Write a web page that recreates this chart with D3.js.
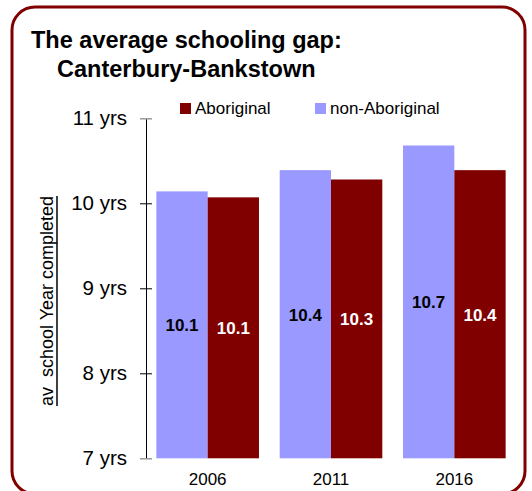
<!DOCTYPE html>
<html>
<head>
<meta charset="utf-8">
<script src="https://cdn.jsdelivr.net/npm/d3@7/dist/d3.min.js"></script>
<style>
  html, body { margin: 0; padding: 0; background: #fff; }
  svg { display: block; font-family: "Liberation Sans", Arial, Helvetica, sans-serif; }
</style>
</head>
<body>
<svg id="chart" width="532" height="491"></svg>
<script>
// Census years and average school year completed by group
const years = ["2006", "2011", "2016"];
const seriesNames = ["non-Aboriginal", "Aboriginal"];
const nonAboriginal = [10.14, 10.39, 10.68];
const aboriginal = [10.07, 10.28, 10.39];
const yTicks = [7, 8, 9, 10, 11];
const legendOrder = ["Aboriginal", "non-Aboriginal"];

const colors = { "Aboriginal": "#800000", "non-Aboriginal": "#9999ff" };
const labelColors = { "Aboriginal": "#ffffff", "non-Aboriginal": "#000000" };

const rows = years.map((yr, i) => ({
  year: yr,
  values: [
    { key: "non-Aboriginal", value: nonAboriginal[i] },
    { key: "Aboriginal", value: aboriginal[i] }
  ]
}));

const svg = d3.select("#chart");

// Rounded frame
svg.append("rect")
  .attr("x", 12).attr("y", 7)
  .attr("width", 513).attr("height", 487)
  .attr("rx", 23).attr("ry", 23)
  .attr("fill", "none")
  .attr("stroke", "#800000")
  .attr("stroke-width", 3);

// Title
const title = svg.append("text")
  .attr("font-weight", "bold")
  .attr("font-size", 23.5)
  .attr("fill", "#000");
title.append("tspan").attr("x", 31).attr("y", 48).text("The average schooling gap:");
title.append("tspan").attr("x", 57).attr("y", 77).text("Canterbury-Bankstown");

// Scales
const x0 = d3.scaleBand().domain(years).range([146, 516]).paddingInner(0.168).paddingOuter(0.084);
const x1 = d3.scaleBand().domain(seriesNames).range([0, x0.bandwidth()]);
const y = d3.scaleLinear().domain([7, 11]).range([458.3, 118.3]);

// Bars
const groups = svg.append("g").selectAll("g")
  .data(rows).join("g")
  .attr("transform", d => `translate(${x0(d.year)},0)`);

groups.selectAll("rect")
  .data(d => d.values).join("rect")
  .attr("x", d => x1(d.key))
  .attr("y", d => y(d.value))
  .attr("width", x1.bandwidth())
  .attr("height", d => y(7) - y(d.value))
  .attr("fill", d => colors[d.key]);

// Value labels in the middle of each bar
groups.selectAll("text")
  .data(d => d.values).join("text")
  .attr("x", d => x1(d.key) + x1.bandwidth() / 2)
  .attr("y", d => (y(d.value) + y(7)) / 2 + 1)
  .attr("text-anchor", "middle")
  .attr("dominant-baseline", "central")
  .attr("font-weight", "bold")
  .attr("font-size", 17)
  .attr("fill", d => labelColors[d.key])
  .text(d => d3.format(".1f")(d.value));

// Y axis with ticks crossing the axis line
const yAxis = svg.append("g")
  .attr("transform", "translate(146,0)")
  .call(d3.axisLeft(y).tickValues(yTicks).tickSize(6).tickSizeOuter(0).tickPadding(13)
    .tickFormat(d => d + " yrs"));
yAxis.select(".domain").attr("stroke", "#000").attr("stroke-width", 1);
yAxis.selectAll(".tick line")
  .attr("x1", 6)
  .attr("stroke", d => (d === 7 || d === 11) ? "#999" : "#000")
  .attr("stroke-width", d => (d === 7 || d === 11) ? 1.5 : 1);
yAxis.selectAll(".tick text")
  .attr("font-size", 20.5)
  .attr("font-family", "Liberation Sans, Arial, sans-serif")
  .attr("fill", "#000");

// X axis labels (no line)
const xAxis = svg.append("g")
  .attr("transform", `translate(0,${y(7)})`)
  .call(d3.axisBottom(x0).tickSize(0).tickPadding(15));
xAxis.select(".domain").remove();
xAxis.selectAll(".tick text")
  .attr("font-size", 17)
  .attr("font-family", "Liberation Sans, Arial, sans-serif")
  .attr("fill", "#000");

// Y axis title, underlined
const yTitle = svg.append("text")
  .attr("transform", "translate(53,301) rotate(-90)")
  .attr("text-anchor", "middle")
  .attr("font-size", 18)
  .attr("fill", "#000")
  .style("white-space", "pre")
  .text("av  school Year completed");
const tlen = yTitle.node().getComputedTextLength();
svg.append("line")
  .attr("x1", 57).attr("x2", 57)
  .attr("y1", 301 - tlen / 2).attr("y2", 301 + tlen / 2)
  .attr("stroke", "#000").attr("stroke-width", 1.5);

// Legend
const legendX = { "Aboriginal": 180, "non-Aboriginal": 315 };
const legend = svg.append("g").selectAll("g")
  .data(legendOrder).join("g")
  .attr("transform", d => `translate(${legendX[d]},0)`);
legend.append("rect")
  .attr("x", 0).attr("y", 103)
  .attr("width", 11).attr("height", 11)
  .attr("fill", d => colors[d]);
legend.append("text")
  .attr("x", 15).attr("y", 114)
  .attr("font-size", 17)
  .attr("fill", "#000")
  .text(d => d);
</script>
</body>
</html>
